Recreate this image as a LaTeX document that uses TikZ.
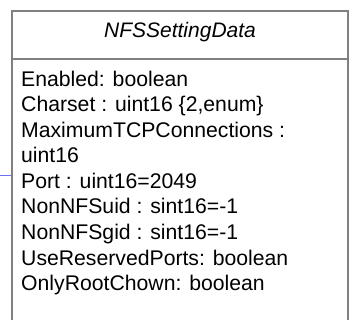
\documentclass[tikz,border=0pt]{standalone}
\usepackage{fontspec}
\setmainfont{Liberation Sans}
\usepackage{xcolor}
\usepackage{tikz}

\definecolor{boxgray}{RGB}{128,128,128}
\definecolor{linkblue}{RGB}{110,110,245}

\tikzset{
  attr/.style={anchor=base west, inner sep=0pt, font=\fontsize{21.2}{25.5}\selectfont},
  cname/.style={anchor=base, inner sep=0pt, font=\fontsize{21}{25.5}\selectfont\itshape}
}

\begin{document}
\begin{tikzpicture}[x=1pt, y=-1pt]
\useasboundingbox (0,0) rectangle (350,320);
\clip (0,0) rectangle (350,320);

% class box
\draw[boxgray, line width=2pt] (12,340) -- (12,11) -- (347.5,11) -- (347.5,340);
\draw[boxgray, line width=2pt] (12,59) -- (347.5,59);

\node[cname] (title) at (180,37.7) {NFSSettingData};

\node[attr] (enabled) at (21,86.5) {Enabled: boolean};
\node[attr] (charset) at (21,112) {Charset : uint16 \{2,enum\}};
\node[attr] (maxtcp) at (21,137.5) {MaximumTCPConnections :};
\node[attr] (maxtype) at (21,163) {uint16};
\node[attr] (port) at (21,188.5) {Port : uint16=2049};
\node[attr] (uid) at (21,214) {NonNFSuid : sint16=-1};
\node[attr] (gid) at (21,239.5) {NonNFSgid : sint16=-1};
\node[attr] (reserved) at (21,265) {UseReservedPorts: boolean};
\node[attr] (chown) at (21,290.5) {OnlyRootChown: boolean};

% link coming in from the left
\coordinate (linkend) at (0,175.3);
\coordinate (boxside) at (11,175.3);
\draw[linkblue, line width=1.2pt] (linkend) -- (boxside);
\end{tikzpicture}
\end{document}
